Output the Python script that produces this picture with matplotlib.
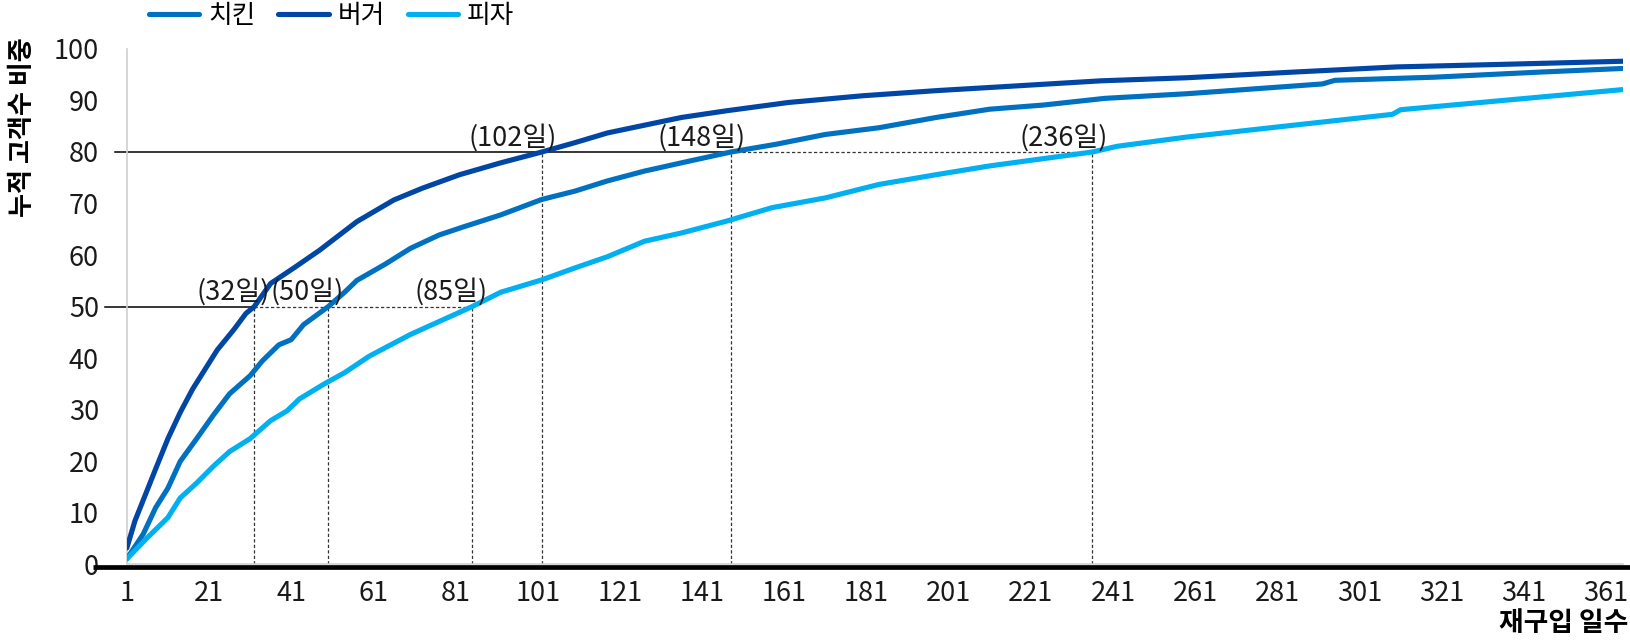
import matplotlib
matplotlib.use("Agg")
import matplotlib.pyplot as plt

plt.rcParams["font.family"] = ["Noto Sans CJK KR", "DejaVu Sans"]

# cumulative share of customers (%) by days until repurchase
chicken_days = [1, 5, 8, 11, 14, 18, 22, 26, 31, 34, 38, 41, 44, 50, 54, 57, 64,
                70, 77, 83, 92, 102, 110, 118, 127, 136, 148, 159, 171, 184, 198,
                211, 224, 239, 259, 292, 295, 319, 345, 365]
chicken_pct = [1.1, 5.9, 11.0, 14.8, 20.0, 24.4, 28.9, 33.1, 36.6, 39.5, 42.6,
               43.6, 46.5, 50.0, 52.8, 55.1, 58.3, 61.3, 63.9, 65.5, 67.8, 70.8,
               72.4, 74.4, 76.3, 77.9, 80.0, 81.5, 83.4, 84.7, 86.7, 88.3, 89.1,
               90.4, 91.3, 93.2, 93.9, 94.5, 95.5, 96.2]

burger_days = [1, 3, 6, 8, 11, 14, 17, 20, 23, 27, 30, 32, 36, 42, 48, 57, 66,
               73, 82, 92, 102, 110, 118, 127, 136, 147, 162, 180, 198, 215, 238,
               259, 285, 310, 336, 365]
burger_pct = [3.2, 8.5, 14.5, 18.5, 24.4, 29.5, 34.0, 37.8, 41.6, 45.5, 48.7,
              50.0, 54.5, 57.7, 61.0, 66.5, 70.7, 73.0, 75.6, 77.9, 80.0, 81.8,
              83.7, 85.2, 86.7, 88.0, 89.6, 90.9, 91.9, 92.7, 93.8, 94.4, 95.5,
              96.5, 97.0, 97.6]

pizza_days = [1, 6, 11, 14, 18, 22, 26, 31, 36, 40, 43, 49, 54, 60, 70, 85, 92,
              102, 110, 118, 127, 136, 147, 158, 171, 184, 198, 211, 236, 242,
              259, 285, 309, 311, 336, 365]
pizza_pct = [1.1, 5.2, 9.1, 12.9, 15.8, 19.0, 21.9, 24.4, 27.9, 29.8, 32.1, 35.0,
             37.2, 40.4, 44.6, 50.0, 52.8, 55.2, 57.5, 59.7, 62.7, 64.3, 66.6,
             69.2, 71.1, 73.7, 75.6, 77.3, 80.0, 81.1, 82.9, 85.2, 87.3, 88.2,
             90.0, 92.1]

series_names = ["치킨", "버거", "피자"]
series_colors = ["#0070C0", "#0046A5", "#00B0F0"]

# days at which each menu reaches 50% / 80% of customers
mark_levels = [50, 80]
mark_days = {50: [32, 50, 85], 80: [102, 148, 236]}
# where the solid part of each reference line stops
solid_until = {50: 32, 80: 148}
# left end of the reference lines (slightly past the y axis)
ref_left = {50: -4.3, 80: -1.9}

x_ticks = list(range(1, 362, 20))
y_ticks = list(range(0, 101, 10))

FS = 19.5

fig = plt.figure(figsize=(16.30, 6.43), dpi=100)
ax = fig.add_axes([0.0778, 0.1221, 0.9176, 0.8019])

data = [(chicken_days, chicken_pct), (burger_days, burger_pct),
        (pizza_days, pizza_pct)]
for (d, v), name, c in zip(data, series_names, series_colors):
    ax.plot(d, v, color=c, lw=3.7, label=name, solid_capstyle="round",
            solid_joinstyle="round", zorder=3)

dash = (0, (2.6, 1.8))
for lvl in mark_levels:
    days = mark_days[lvl]
    # solid from the axis, dashed on to the last crossing
    ax.plot([ref_left[lvl], solid_until[lvl]], [lvl, lvl],
            color="black", lw=1.1, clip_on=False, zorder=2)
    ax.plot([solid_until[lvl], days[-1]], [lvl, lvl], color="#333333",
            lw=0.9, linestyle=dash, zorder=2)
    for d in days:
        ax.plot([d, d], [0, lvl], color="#333333", lw=0.9, linestyle=dash,
                zorder=2)
        ax.annotate(f"({d}일)", xy=(d, lvl), xytext=(11, 0.5),
                    textcoords="offset points", ha="right", va="bottom",
                    fontsize=FS, color="#1a1a1a", zorder=4)

# heavy baseline under the x axis
ax.plot([-0.0226, 1.006], [-0.45, -0.45], transform=ax.get_yaxis_transform(),
        color="black", lw=3.4, clip_on=False, zorder=5, solid_capstyle="butt")

ax.set_xlim(1, 365)
ax.set_ylim(0, 100)
ax.set_xticks(x_ticks)
ax.set_yticks(y_ticks)
ax.tick_params(axis="both", length=0, labelsize=FS, colors="#1a1a1a")
ax.tick_params(axis="y", pad=20)
ax.tick_params(axis="x", pad=11)
for s in ("top", "right"):
    ax.spines[s].set_visible(False)
ax.spines["left"].set_color("#d0d0d0")
ax.spines["left"].set_linewidth(1.2)
ax.spines["bottom"].set_color("#d0d0d0")
ax.spines["bottom"].set_linewidth(1.2)

fig.legend(loc="upper left", bbox_to_anchor=(149 / 1630, 1 - 3 / 643),
           ncol=3, frameon=False, fontsize=18.5, borderpad=0,
           borderaxespad=0, handlelength=1.95, handletextpad=0.35,
           columnspacing=0.9)

fig.text(23 / 1630, 1 - 127 / 643, "누적 고객수 비중", rotation=90,
         ha="center", va="center", fontsize=18.8, fontweight="bold")
fig.text(1628 / 1630, 1 - 623 / 643, "재구입 일수", ha="right", va="center",
         fontsize=19.3, fontweight="bold")

fig.savefig("out.png", dpi=100)
